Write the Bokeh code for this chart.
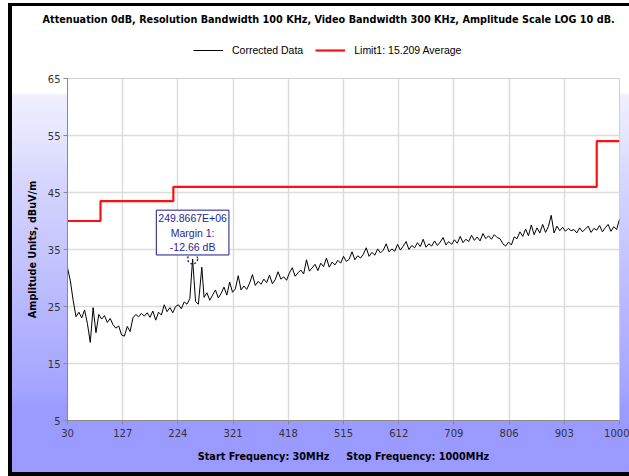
from bokeh.plotting import figure
from bokeh.layouts import column
from bokeh.models import (Range1d, FixedTicker, Legend, LegendItem, Label)
from bokeh.embed import file_html
from bokeh.resources import INLINE

# ---- data ----
freq_mhz = [30, 35, 40, 45, 50, 55, 60, 65, 70, 75,
            80, 85, 90, 95, 100, 105, 110, 115, 120, 125,
            130, 135, 140, 145, 150, 155, 160, 165, 170, 175,
            180, 185, 190, 195, 200, 205, 210, 215, 220, 225,
            230, 235, 240, 245, 249.8667, 255, 260, 266, 270, 275,
            280, 285, 290, 295, 300, 305, 310, 315, 320, 325,
            330, 335, 340, 345, 350, 355, 360, 365, 370, 375,
            380, 385, 390, 395, 400, 405, 410, 415, 420, 425,
            430, 435, 440, 445, 450, 455, 460, 465, 470, 475,
            480, 485, 490, 495, 500, 505, 510, 515, 520, 525,
            530, 535, 540, 545, 550, 555, 560, 565, 570, 575,
            580, 585, 590, 595, 600, 605, 610, 615, 620, 625,
            630, 635, 640, 645, 650, 655, 660, 665, 670, 675,
            680, 685, 690, 695, 700, 705, 710, 715, 720, 725,
            730, 735, 740, 745, 750, 755, 760, 765, 770, 775,
            780, 785, 790, 795, 800, 805, 810, 815, 820, 825,
            830, 835, 840, 845, 850, 855, 860, 865, 870, 875,
            880, 885, 890, 895, 900, 905, 910, 915, 920, 925,
            930, 935, 940, 945, 950, 955, 960, 965, 970, 975,
            980, 985, 990, 995, 1000]
corrected = [31.8, 29.5, 26.0, 23.2, 24.0, 23.0, 24.4, 22.0, 18.7, 24.8,
             20.4, 23.6, 22.8, 23.4, 22.2, 22.9, 21.8, 21.2, 21.6, 20.0,
             19.8, 21.5, 20.6, 23.0, 23.6, 23.2, 23.8, 23.3, 23.9, 23.1,
             24.2, 22.6, 24.0, 23.5, 25.3, 24.1, 24.8, 23.9, 25.0, 25.3,
             24.6, 25.8, 25.4, 26.4, 33.34, 25.9, 25.4, 31.9, 26.6, 27.4,
             26.1, 27.0, 27.9, 26.5, 27.3, 28.4, 27.0, 29.3, 27.5, 28.1,
             30.4, 27.9, 28.6, 28.0, 29.1, 30.6, 28.7, 29.4, 28.9, 29.8,
             29.2, 30.5, 29.0, 29.7, 31.1, 29.8, 30.2, 29.6, 30.9, 31.8,
             30.3, 30.9, 31.4, 30.7, 33.2, 31.2, 31.8, 32.4, 31.3, 32.6,
             32.0, 33.5, 31.9, 32.8, 32.3, 33.1, 32.6, 33.8, 32.9, 33.3,
             34.6, 33.2, 33.9, 33.5, 34.2, 35.3, 33.8, 34.5, 34.0, 35.1,
             34.4, 34.9, 36.0, 34.6, 35.1, 34.7, 35.9, 34.9, 35.6, 36.4,
             35.0, 35.7, 35.3, 36.2, 35.5, 36.8, 35.4, 36.0, 35.6, 36.5,
             35.7, 36.3, 37.1, 35.8, 36.4, 35.9, 36.7, 36.1, 37.3, 36.2,
             36.8, 36.4, 37.5, 36.6, 37.2, 36.5, 37.8, 36.9, 37.4, 36.8,
             37.6, 37.1, 36.9, 36.0, 35.6, 36.3, 35.8, 37.2, 36.9, 38.1,
             37.3, 38.6, 37.4, 39.3, 37.6, 38.8, 37.9, 39.4, 38.0, 39.0,
             41.0, 37.9, 39.1, 38.3, 38.9, 38.2, 38.7, 38.3, 38.5, 37.9,
             38.8, 38.1, 38.6, 39.1, 38.0, 38.7, 38.4, 39.2, 38.1, 38.8,
             39.4, 38.2, 39.0, 38.5, 40.3]

limit_freq = [30, 88, 216, 960, 1000]
limit_level = [40, 43.5, 46, 54, 54]

x_ticks = [30, 127, 224, 321, 418, 515, 612, 709, 806, 903, 1000]
y_ticks = [5, 15, 25, 35, 45, 55, 65]

marker_freq = [249.8667]
marker_level = [33.34]
marker_margin = -12.66

title_text = "Attenuation 0dB, Resolution Bandwidth 100 KHz, Video Bandwidth 300 KHz, Amplitude Scale LOG 10 dB."
x_label = "Start Frequency: 30MHz\u00a0\u00a0\u00a0\u00a0 Stop Frequency: 1000MHz"
y_label = "Amplitude Units, dBuV/m"
legend_labels = ["Corrected Data", "Limit1: 15.209 Average"]

DATA_COLOR = "#000000"
LIMIT_COLOR = "#ff1010"
MARK_COLOR = "#1f1f8f"

FRAME_L, FRAME_R = 67, 10

# ---- header (title + legend) ----
hdr = figure(width=629, height=70, output_backend="svg", toolbar_location=None,
             x_range=Range1d(0, 1), y_range=Range1d(0, 1),
             x_axis_type=None, y_axis_type=None,
             min_border_left=FRAME_L, min_border_right=FRAME_R,
             min_border_top=29, min_border_bottom=0)
hdr.grid.visible = False
hdr.outline_line_color = None
hdr.background_fill_alpha = 0
hdr.border_fill_alpha = 0

hdr.title.text = title_text
hdr.title.align = "left"
hdr.title.offset = -25
hdr.title.text_font = "DejaVu Sans"
hdr.title.text_font_size = "9.7px"
hdr.title.text_font_style = "bold"
hdr.title.text_color = "#000000"

# legend proxies (kept outside the header's ranges, so only their legend glyphs show)
proxy_data = hdr.line(x=[-2, -1], y=[-2, -1], line_color=DATA_COLOR, line_width=1)
proxy_lim = hdr.line(x=[-2, -1], y=[-2, -1], line_color=LIMIT_COLOR, line_width=2.2)
legend = Legend(items=[LegendItem(label=legend_labels[0], renderers=[proxy_data]),
                       LegendItem(label=legend_labels[1], renderers=[proxy_lim])],
                orientation="horizontal", location=(193 - FRAME_L, 12),
                border_line_color=None, background_fill_alpha=0,
                label_text_font="Liberation Sans", label_text_font_size="10.5px",
                label_text_color="#000000", glyph_width=30, glyph_height=16, label_height=16,
                label_standoff=9, spacing=12, padding=0, margin=0)
hdr.add_layout(legend, "center")

# ---- main chart ----
p = figure(width=629, height=406, output_backend="svg", toolbar_location=None,
           x_range=Range1d(30, 1000), y_range=Range1d(5, 65),
           min_border_left=FRAME_L, min_border_right=FRAME_R, min_border_top=8, min_border_bottom=56)
p.border_fill_alpha = 0
p.background_fill_color = "#ffffff"
p.outline_line_color = "#d0d0d0"

p.xaxis.ticker = FixedTicker(ticks=x_ticks)
p.yaxis.ticker = FixedTicker(ticks=y_ticks)
for ax in (p.xaxis[0], p.yaxis[0]):
    ax.axis_line_color = "#8a8a8a"
    ax.major_tick_line_color = "#8a8a8a"
    ax.major_tick_out = 4
    ax.major_tick_in = 0
    ax.minor_tick_line_color = None
    ax.major_label_text_font = "DejaVu Sans"
    ax.major_label_text_font_size = "10px"
    ax.major_label_text_color = "#333333"
    ax.axis_label_text_font = "DejaVu Sans"
    ax.axis_label_text_font_size = "9.7px"
    ax.axis_label_text_font_style = "bold"
    ax.axis_label_text_color = "#000000"
p.xaxis.axis_label = x_label
p.yaxis.axis_label = y_label
p.xaxis.major_label_standoff = 4
p.yaxis.major_label_standoff = 3
p.xaxis.axis_label_standoff = 11
p.yaxis.axis_label_standoff = 7

p.xgrid.ticker = FixedTicker(ticks=x_ticks)
p.ygrid.ticker = FixedTicker(ticks=y_ticks)
p.grid.grid_line_color = "#dcdcdc"
p.grid.grid_line_width = 1.5

p.line(freq_mhz, corrected, line_color=DATA_COLOR, line_width=1)
p.step(limit_freq, limit_level, mode="after", line_color=LIMIT_COLOR, line_width=2.2)

p.scatter(marker_freq, marker_level, marker="circle", size=10, fill_color=None,
          line_color=MARK_COLOR, line_dash="2 2", line_width=1.3)

p.add_layout(Label(x=marker_freq[0], y=marker_level[0], x_offset=0, y_offset=4,
                   text="%.4fE+06\nMargin 1:\n%.2f dB" % (marker_freq[0], marker_margin),
                   text_align="center", text_baseline="bottom",
                   text_font="Liberation Sans", text_font_size="10.5px", text_color=MARK_COLOR,
                   text_line_height=1.2,
                   background_fill_color="#ffffff", border_line_color="#1a1a80",
                   border_line_width=1, padding=2))

page = column(hdr, p, spacing=0)
page.styles = {
    "background": (
        "linear-gradient(#000,#000) 8px 3px / 4px 473px no-repeat, "
        "linear-gradient(#000,#000) 8px 3px / 621px 3px no-repeat, "
        "linear-gradient(#000,#000) 8px 472px / 621px 4px no-repeat, "
        "linear-gradient(#fff,#fff) 0px 0px / 8px 100% no-repeat, "
        "linear-gradient(to bottom, #ffffff 0px, #ffffff 92px, #efefff 96px, #e4e4ff 140px, "
        "#d6d6ff 180px, #c6c6ff 250px, #b4b4ff 320px, #a4a4ff 390px, #9a9aff 410px, #9999ff 100%)"
    ),
}

open("out.html", "w").write(file_html(page, INLINE))
